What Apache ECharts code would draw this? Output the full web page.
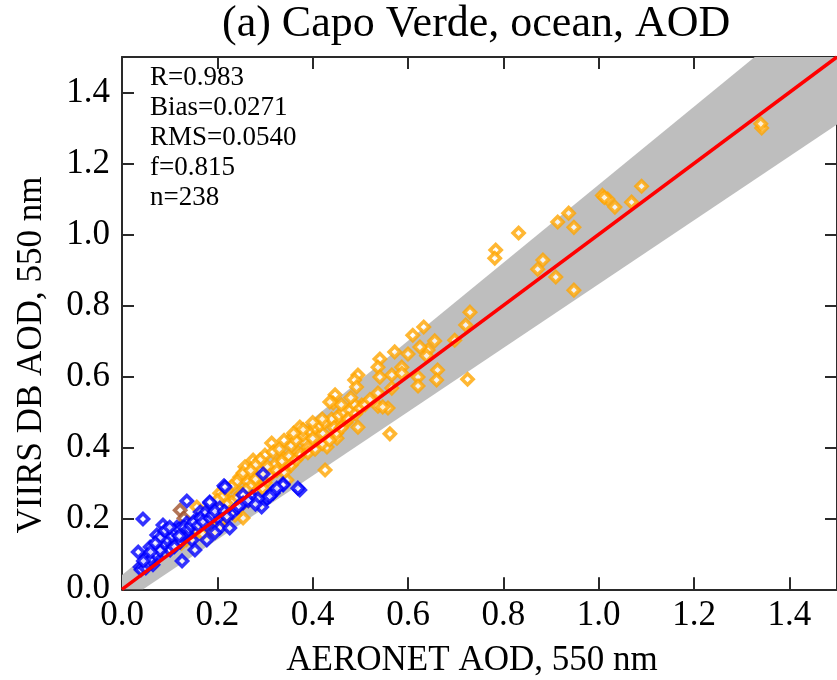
<!DOCTYPE html>
<html>
<head>
<meta charset="utf-8">
<title>Capo Verde, ocean, AOD</title>
<script src="https://cdn.jsdelivr.net/npm/echarts@6/dist/echarts.min.js"></script>
<style>
  html, body { margin: 0; padding: 0; background: #ffffff; }
  #chart { width: 837px; height: 680px; }
</style>
</head>
<body>
<div id="chart"></div>
<script>
// ---- Data: AERONET AOD (x) vs VIIRS DB AOD (y), 550 nm ----
const orangePoints = [
  [1.342,1.300],[1.340,1.312],
  [1.090,1.136],[1.008,1.110],[1.019,1.100],[1.034,1.077],[1.069,1.091],[1.012,1.104],
  [0.914,1.035],[0.937,1.060],[0.948,1.020],[0.832,1.004],[0.784,0.956],[0.782,0.933],
  [0.883,0.928],[0.872,0.902],[0.910,0.880],[0.948,0.843],
  [0.730,0.781],[0.721,0.745],[0.698,0.702],[0.725,0.592],
  [0.633,0.739],[0.610,0.716],[0.656,0.700],[0.642,0.674],[0.625,0.683],[0.572,0.669],
  [0.600,0.663],[0.639,0.658],[0.541,0.649],[0.537,0.626],[0.587,0.626],[0.662,0.618],
  [0.660,0.590],[0.495,0.604],[0.488,0.590],[0.492,0.570],[0.541,0.598],[0.566,0.604],
  [0.587,0.609],[0.621,0.598],[0.621,0.573],[0.537,0.553],[0.566,0.567],[0.447,0.548],
  [0.443,0.525],[0.503,0.519],[0.537,0.516],[0.558,0.511],[0.495,0.457],[0.562,0.438],
  [0.457,0.477],[0.436,0.528],[0.547,0.514],[0.451,0.426],[0.373,0.457],[0.358,0.429],
  [0.384,0.415],[0.421,0.440],[0.430,0.401],[0.314,0.412],[0.300,0.378],[0.275,0.364],
  [0.317,0.387],[0.338,0.370],[0.258,0.345],[0.247,0.316],[0.268,0.322],[0.289,0.336],
  [0.314,0.330],[0.346,0.345],[0.426,0.336],[0.346,0.308],
  [0.254,0.328],[0.241,0.303],[0.264,0.303],[0.283,0.294],[0.254,0.201],[0.237,0.209],
  [0.180,0.161],[0.191,0.187],[0.157,0.232],[0.216,0.258],[0.205,0.271],[0.117,0.144],
  [0.330,0.395],[0.355,0.405],[0.365,0.420],[0.380,0.435],[0.395,0.445],[0.405,0.455],
  [0.415,0.462],[0.425,0.470],[0.440,0.480],[0.455,0.490],[0.465,0.500],[0.478,0.505],
  [0.488,0.520],[0.470,0.470],[0.445,0.455],[0.400,0.425],[0.390,0.400],[0.370,0.385],
  [0.350,0.375],[0.335,0.360],[0.320,0.350],[0.305,0.345],[0.290,0.315],[0.280,0.310],
  [0.270,0.290],[0.260,0.280],[0.250,0.270],[0.240,0.255],[0.230,0.245],[0.220,0.240],
  [0.210,0.225],[0.200,0.215],[0.195,0.200],[0.185,0.195],[0.175,0.180],[0.165,0.170],
  [0.155,0.160],[0.145,0.150],[0.135,0.140],[0.125,0.130],[0.300,0.300],[0.310,0.320],
  [0.325,0.335],[0.340,0.330],[0.355,0.350],[0.365,0.365],[0.375,0.380],[0.390,0.385],
  [0.405,0.395],[0.420,0.410],[0.435,0.420],[0.450,0.440],[0.460,0.455],[0.475,0.480],
  [0.490,0.495],[0.500,0.510],[0.510,0.520],[0.520,0.535],[0.480,0.540],[0.460,0.520],
  [0.420,0.480],[0.400,0.470],[0.380,0.450],[0.360,0.440],[0.340,0.420],[0.290,0.365],
  [0.280,0.350],[0.270,0.335],[0.230,0.290],[0.220,0.280],[0.210,0.260],[0.200,0.250],
  [0.190,0.235],[0.265,0.250],[0.275,0.265],[0.285,0.280],[0.295,0.285],[0.245,0.230],
  [0.225,0.215],[0.215,0.200],[0.205,0.190],[0.195,0.175],[0.170,0.155]
];

const brownPoints = [
  [0.122,0.223],[0.130,0.200]
];

const bluePoints = [
  [0.044,0.198],[0.034,0.105],[0.038,0.063],[0.126,0.080],[0.136,0.249],[0.214,0.292],
  [0.296,0.325],[0.338,0.297],[0.373,0.280],[0.317,0.275],[0.306,0.258],[0.293,0.232],
  [0.254,0.266],[0.184,0.243],[0.164,0.218],[0.205,0.229],[0.231,0.215],[0.086,0.181],
  [0.073,0.153],[0.101,0.158],[0.115,0.175],[0.136,0.187],[0.157,0.195],[0.174,0.215],
  [0.136,0.158],[0.122,0.133],[0.086,0.125],[0.059,0.119],[0.052,0.091],[0.065,0.069],
  [0.073,0.091],[0.101,0.111],[0.147,0.139],[0.178,0.181],[0.201,0.201],[0.178,0.139],
  [0.153,0.111],[0.205,0.173],[0.226,0.173],[0.241,0.229],[0.254,0.243],[0.273,0.260],
  [0.216,0.288],[0.184,0.246],[0.304,0.257],[0.369,0.285],[0.338,0.294],[0.317,0.271],
  [0.040,0.055],[0.050,0.060],[0.055,0.075],[0.060,0.085],[0.070,0.100],[0.080,0.110],
  [0.090,0.130],[0.095,0.140],[0.105,0.150],[0.110,0.165],[0.120,0.170],[0.125,0.150],
  [0.130,0.175],[0.140,0.170],[0.145,0.180],[0.150,0.190],[0.160,0.180],[0.165,0.200],
  [0.170,0.190],[0.185,0.200],[0.190,0.210],[0.195,0.220],[0.215,0.220],[0.220,0.205],
  [0.245,0.235],[0.265,0.250],[0.080,0.145],[0.090,0.165],[0.100,0.175],[0.070,0.130],
  [0.060,0.105],[0.045,0.080],[0.110,0.120],[0.120,0.150],[0.285,0.255],[0.310,0.262],
  [0.325,0.285],[0.280,0.240],[0.195,0.160]
];

const statsLines = ['R=0.983', 'Bias=0.0271', 'RMS=0.0540', 'f=0.815', 'n=238'];
const axisMin = 0, axisMax = 1.5, tickStep = 0.2;

// Expected-error envelope: +/-(eeOffset + eeSlope * tau)
const eeOffset = 0.04, eeSlope = 0.10;

// Envelope polygon, already clipped to the plotting box
const upperHitX = (axisMax - eeOffset) / (1 + eeSlope);
const lowerZeroX = eeOffset / (1 - eeSlope);
const bandVertices = [
  [axisMin, axisMin],
  [lowerZeroX, axisMin],
  [axisMax, axisMax * (1 - eeSlope) - eeOffset],
  [axisMax, axisMax],
  [upperHitX, axisMax],
  [axisMin, eeOffset]
];

const serif = '"Liberation Serif", "Times New Roman", Times, serif';
const axisColor = '#2a2a2a';

const chart = echarts.init(document.getElementById('chart'), null, { renderer: 'canvas' });

function baseAxis(extra) {
  return Object.assign({
    type: 'value',
    min: axisMin,
    max: axisMax,
    interval: tickStep,
    splitLine: { show: false },
    axisLine: { show: true, onZero: false, lineStyle: { color: axisColor, width: 2 } },
    axisTick: { show: true, inside: true, length: 12, lineStyle: { color: axisColor, width: 2 } }
  }, extra);
}

const markerStyle = (c) => ({ color: '#ffffff', borderColor: c, borderWidth: 3.6 });
const markerSize = 11;

chart.setOption({
  animation: false,
  backgroundColor: '#ffffff',
  grid: { left: 122, top: 57, width: 715.5, height: 532.3, containLabel: false },
  xAxis: [
    baseAxis({
      position: 'bottom',
      axisLabel: {
        show: true, margin: 9, showMaxLabel: false,
        color: '#000', fontFamily: serif, fontSize: 35,
        formatter: (v) => v.toFixed(1)
      }
    }),
    baseAxis({ position: 'top', axisLabel: { show: false } })
  ],
  yAxis: [
    baseAxis({
      position: 'left',
      axisLabel: {
        show: true, margin: 12, showMaxLabel: false,
        color: '#000', fontFamily: serif, fontSize: 35,
        formatter: (v) => v.toFixed(1)
      }
    }),
    baseAxis({ position: 'right', axisLabel: { show: false } })
  ],
  series: [
    {
      type: 'custom',
      name: 'envelope',
      silent: true,
      z: 1,
      data: [[0, 0]],
      renderItem: function (params, api) {
        return {
          type: 'polygon',
          shape: { points: bandVertices.map((p) => api.coord(p)) },
          style: { fill: '#bebebe' }
        };
      }
    },
    {
      type: 'scatter', name: 'orange', z: 2,
      symbol: 'diamond', symbolSize: markerSize,
      itemStyle: markerStyle('#ffa500'),
      data: orangePoints
    },
    {
      type: 'scatter', name: 'brown', z: 2,
      symbol: 'diamond', symbolSize: markerSize,
      itemStyle: markerStyle('#a0522d'),
      data: brownPoints
    },
    {
      type: 'scatter', name: 'blue', z: 2,
      symbol: 'diamond', symbolSize: markerSize,
      itemStyle: markerStyle('#0000ff'),
      data: bluePoints
    },
    {
      type: 'line', name: 'one-to-one', z: 3,
      symbol: 'none', silent: true,
      lineStyle: { color: '#ff0000', width: 3.5 },
      data: [[axisMin, axisMin], [axisMax, axisMax]]
    }
  ],
  graphic: [
    {
      type: 'text', left: 482 - 260, top: 2,
      style: {
        text: '(a) Capo Verde, ocean, AOD', x: 0, y: 0,
        fill: '#000', font: '44px ' + serif
      }
    },
    {
      type: 'text', left: 150, top: 63,
      style: {
        text: statsLines.join('\n'),
        fill: '#000', font: '27px ' + serif, lineHeight: 30
      }
    },
    {
      type: 'text', x: 472, y: 661,
      style: {
        text: 'AERONET AOD, 550 nm', align: 'center', verticalAlign: 'middle',
        fill: '#000', font: '35px ' + serif
      }
    },
    {
      type: 'text', x: 32, y: 355, rotation: Math.PI / 2,
      style: {
        text: 'VIIRS DB AOD, 550 nm', align: 'center', verticalAlign: 'middle',
        fill: '#000', font: '35px ' + serif
      }
    }
  ]
});
</script>
</body>
</html>
